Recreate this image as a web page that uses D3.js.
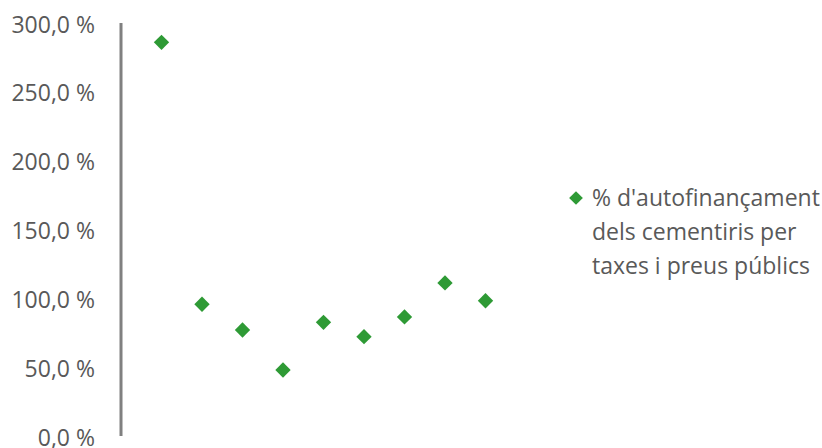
<!DOCTYPE html>
<html>
<head>
<meta charset="utf-8">
<script src="https://cdn.jsdelivr.net/npm/d3@7"></script>
<style>
  body { margin: 0; background: #fff; }
  text { font-family: "Open Sans", "Noto Sans", sans-serif; fill: #595959; }
</style>
</head>
<body>
<div id="chart"></div>
<script>
// data
const positions = [1, 2, 3, 4, 5, 6, 7, 8, 9];
const values = [286.7, 96.4, 77.7, 48.7, 83.3, 72.9, 87.2, 111.9, 99.0];
const yTicks = [0, 50, 100, 150, 200, 250, 300];
const legendLines = ["% d'autofinançament", "dels cementiris per", "taxes i preus públics"];

const width = 822, height = 448;

const svg = d3.select("#chart")
  .append("svg")
    .attr("width", width)
    .attr("height", height);

// scales
const x = d3.scaleLinear()
  .domain([0, 10])
  .range([121, 526]);

const y = d3.scaleLinear()
  .domain([0, 300])
  .range([437, 24]);

// y axis: labels only + vertical line
const yAxis = svg.append("g")
  .attr("transform", "translate(121,0)")
  .call(d3.axisLeft(y)
    .tickValues(yTicks)
    .tickSize(0)
    .tickPadding(26)
    .tickFormat(d => d3.format(".1f")(d).replace(".", ",") + " %"));
yAxis.select(".domain")
  .attr("stroke", "#808080")
  .attr("stroke-width", 3)
  .attr("d", `M0,${y(300) - 1}V${y(0) - 1}`);
yAxis.selectAll("text")
  .style("font-size", "23px")
  .attr("fill", "#595959")
  .attr("dy", "0.35em");

// markers
const diamond = d3.symbol().type(d3.symbolDiamond2).size(150);
svg.selectAll(".pt")
  .data(positions)
  .join("path")
    .attr("class", "pt")
    .attr("d", diamond)
    .attr("transform", (d, i) => `translate(${x(d)},${y(values[i])})`)
    .attr("fill", "#2e9a35");

// legend
const legend = svg.append("g").attr("transform", "translate(576,198)");
legend.append("path")
  .attr("d", d3.symbol().type(d3.symbolDiamond2).size(120))
  .attr("fill", "#2e9a35");
legend.selectAll("text")
  .data(legendLines)
  .join("text")
    .attr("x", 16)
    .attr("y", (d, i) => i * 34)
    .attr("dy", "0.35em")
    .style("font-size", "23px")
    .text(d => d);
</script>
</body>
</html>
